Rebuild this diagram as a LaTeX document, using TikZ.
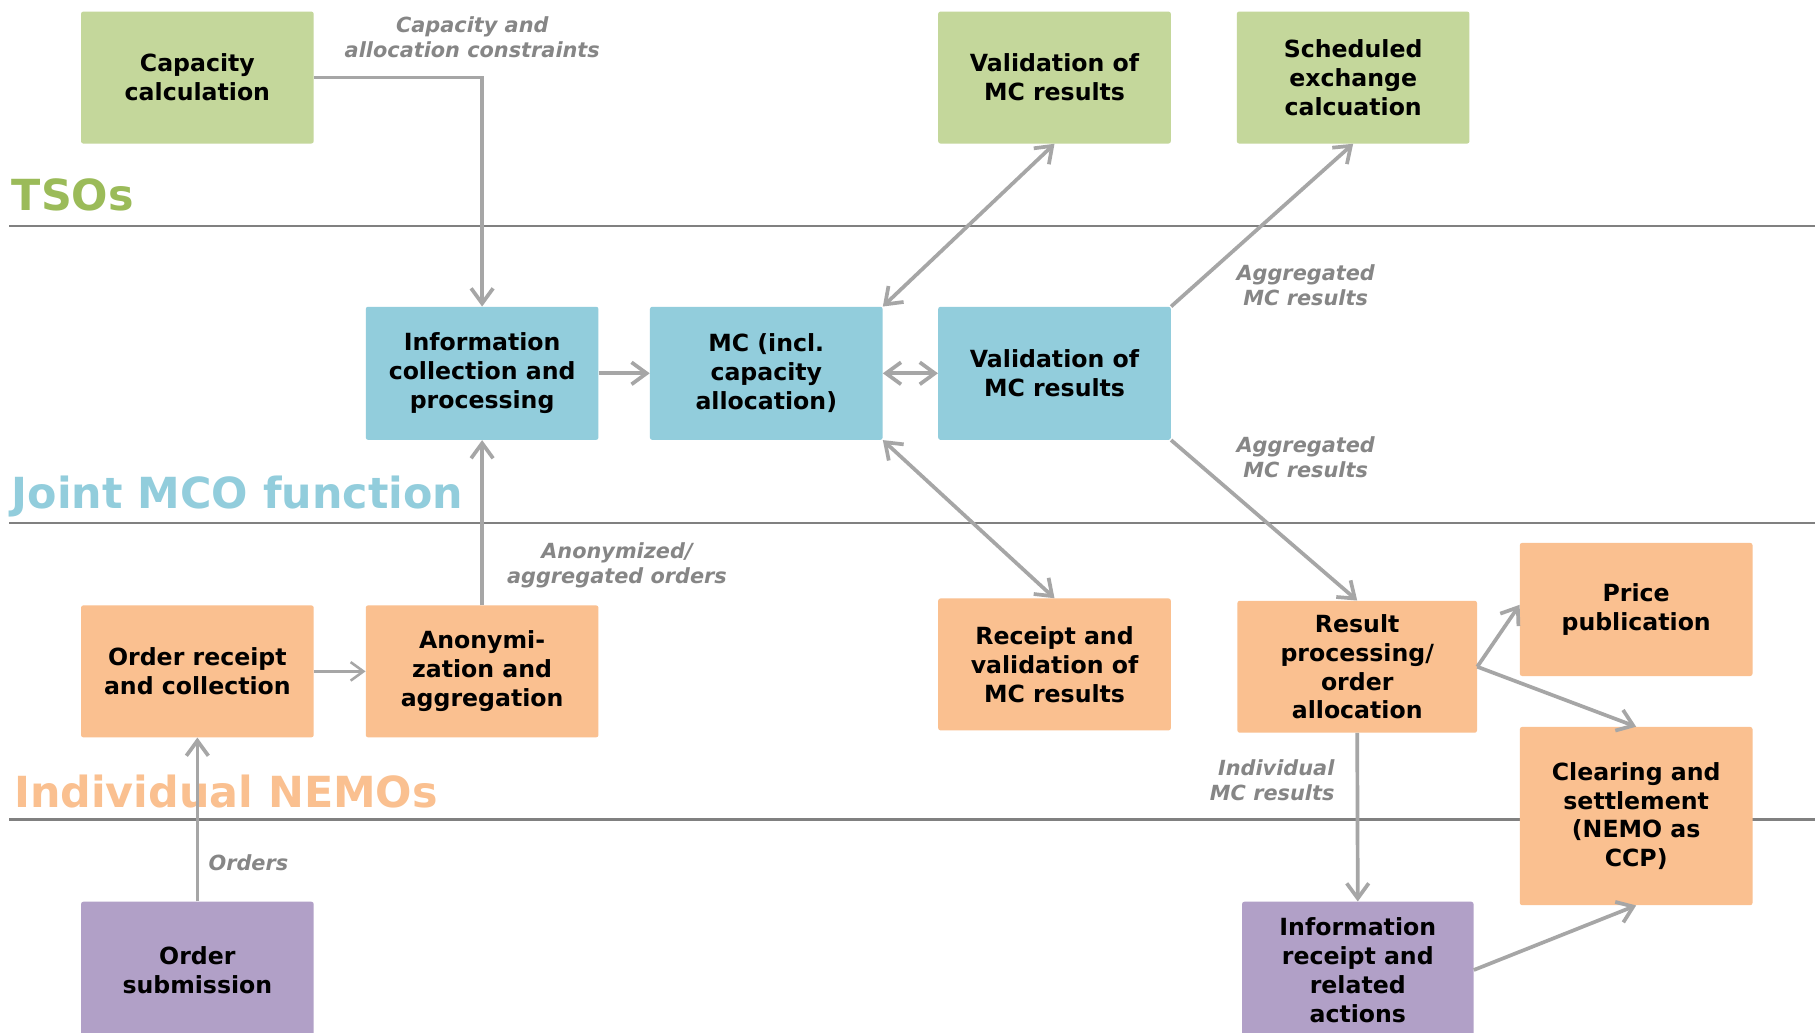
\documentclass[tikz,border=0pt]{standalone}
\usepackage{fontspec}
\setmainfont{DejaVu Sans}
\usetikzlibrary{arrows.meta}
\definecolor{boxgreen}{HTML}{C4D79B}
\definecolor{boxblue}{HTML}{92CDDC}
\definecolor{boxorange}{HTML}{FAC090}
\definecolor{boxpurple}{HTML}{B1A0C7}
\definecolor{titlegreen}{HTML}{9BBB59}
\definecolor{titleblue}{HTML}{92CDDC}
\definecolor{titleorange}{HTML}{FAC090}
\definecolor{sepgray}{HTML}{808080}
\definecolor{arrowgray}{HTML}{A6A6A6}
\definecolor{labelgray}{HTML}{868686}
\tikzset{
  box/.style={rectangle, rounded corners=2pt, inner sep=0pt, minimum width=201pt,
    minimum height=114pt, align=center, text=black,
    font=\bfseries\fontsize{20.4}{25}\selectfont,
    execute at begin node={\rule{0pt}{20pt}}},
  gbox/.style={box, fill=boxgreen},
  bbox/.style={box, fill=boxblue},
  obox/.style={box, fill=boxorange},
  pbox/.style={box, fill=boxpurple},
  flow/.style={draw=arrowgray, line width=3.2pt,
    -{Straight Barb[length=13pt,width=19pt]}},
  flowboth/.style={draw=arrowgray, line width=3.2pt,
    {Straight Barb[length=13pt,width=19pt]}-{Straight Barb[length=13pt,width=19pt]}},
  thinflow/.style={draw=arrowgray, line width=2.2pt,
    -{Straight Barb[length=11pt,width=16pt]}},
  lbl/.style={text=labelgray, align=center, inner sep=0pt,
    font=\bfseries\itshape\fontsize{18}{21.6}\selectfont},
  sep/.style={draw=sepgray, line width=2pt},
  title/.style={anchor=base west, inner sep=0pt, font=\bfseries\fontsize{37}{41}\selectfont}
}
\begin{document}
\begin{tikzpicture}[x=1pt,y=-1pt]
\useasboundingbox (0,0) rectangle (1568,892);
\fill[white] (0,0) rectangle (1568,892);
% separator lines
\coordinate (s1a) at (8,195); \coordinate (s1b) at (1568,195);
\coordinate (s2a) at (8,452); \coordinate (s2b) at (1568,452);
\coordinate (s3a) at (8,708); \coordinate (s3b) at (1568,708);
\draw[sep] (s1a) -- (s1b);
\draw[sep] (s2a) -- (s2b);
\draw[sep] (s3a) -- (s3b);
% titles
\node[title, text=titlegreen] (tsos) at (10,182) {TSOs};
\node[title, text=titleblue] (jmco) at (10,439) {Joint MCO function};
\node[title, text=titleorange] (nemos) at (12,698) {Individual NEMOs};
% boxes
\node[gbox] (cap) at (170.5,67) {Capacity\\calculation};
\node[gbox] (valtop) at (911,67) {Validation of\\MC results};
\node[gbox] (sched) at (1169,67) {Scheduled\\exchange\\calcuation};
\node[bbox, minimum height=115pt] (info) at (416.5,322.5) {Information\\collection and\\processing};
\node[bbox, minimum height=115pt] (mc) at (662,322.5) {MC (incl.\\capacity\\allocation)};
\node[bbox, minimum height=115pt] (valmid) at (911,322.5) {Validation of\\MC results};
\node[obox] (ordrec) at (170.5,580) {Order receipt\\and collection};
\node[obox] (anon) at (416.5,580) {Anonymi-\\zation and\\aggregation};
\node[obox] (recval) at (911,574) {Receipt and\\validation of\\MC results};
\node[obox, minimum width=207pt] (result) at (1172.5,576) {Result\\processing/\\order\\allocation};
\node[obox, minimum height=115pt] (price) at (1413.5,526.5) {Price\\publication};
\node[obox, minimum height=154pt] (clear) at (1413.5,705) {Clearing and\\settlement\\(NEMO as\\CCP)};
\node[pbox, minimum height=118pt] (ordsub) at (170.5,838) {Order\\submission};
\node[pbox, minimum width=200pt, minimum height=118pt] (infrec) at (1173,838) {Information\\receipt and\\related\\actions};
% connectors
\draw[flow] (cap.east) -| (info.north);
\draw[flow] (info.east) -- (mc.west);
\draw[flowboth] (mc.east) -- (valmid.west);
\draw[flowboth] (mc.north east) -- (valtop.south);
\draw[flow] (valmid.north east) -- (sched.south);
\draw[flow] (valmid.south east) -- (result.north);
\draw[flowboth] (mc.south east) -- (recval.north);
\draw[flow] (anon.north) -- (info.south);
\draw[thinflow] (ordrec.east) -- (anon.west);
\draw[flow] (ordsub.north) -- (ordrec.south);
\draw[flow] (result.east) -- ([yshift=4pt]price.west);
\draw[flow] (result.east) -- (clear.north);
\draw[flow] (result.south) -- (infrec.north);
\draw[flow] (infrec.east) -- (clear.south);
% labels
\node[lbl] (l1) at (408,32) {Capacity and\\allocation constraints};
\node[lbl] (l2) at (1128,246) {Aggregated\\MC results};
\node[lbl] (l3) at (1128,395) {Aggregated\\MC results};
\node[lbl] (l4) at (533,488) {Anonymized/\\aggregated orders};
\node[lbl, anchor=west] (l5) at (180,745) {Orders};
\node[lbl, align=right, anchor=east] (l6) at (1153,674) {Individual\\MC results};
\end{tikzpicture}
\end{document}
